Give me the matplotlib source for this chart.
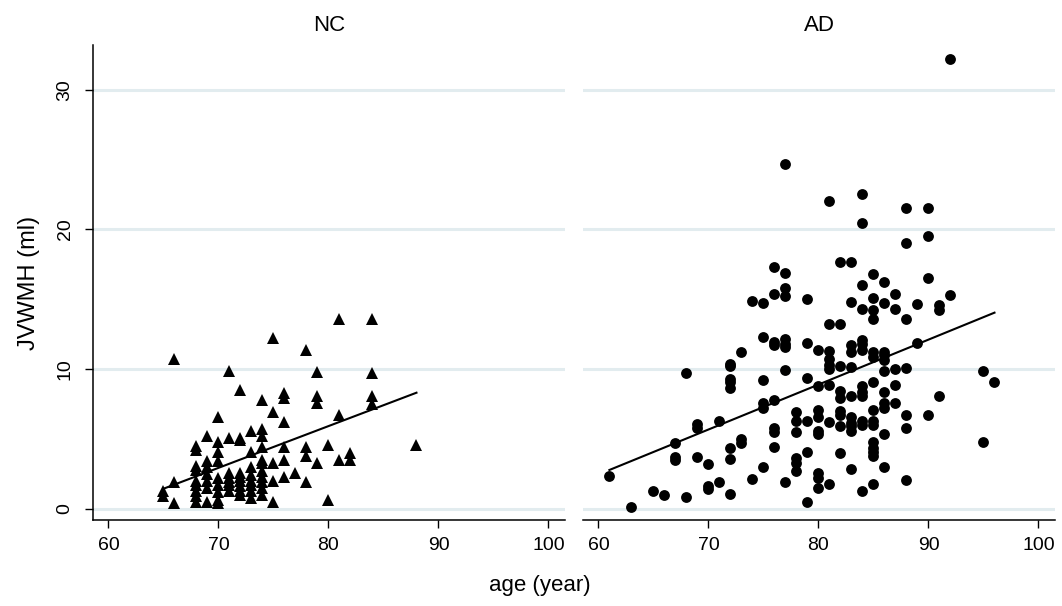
import numpy as np
import matplotlib
matplotlib.use("Agg")
import matplotlib.pyplot as plt

plt.rcParams['font.family'] = ['Liberation Sans', 'DejaVu Sans']

# ---------------- data ----------------
nc_age = [65, 65,
          66, 66, 66,
          68, 68, 68, 68, 68, 68, 68, 68, 68,
          69, 69, 69, 69, 69, 69, 69,
          70, 70, 70, 70, 70, 70, 70, 70, 70,
          71, 71, 71, 71, 71, 71, 71,
          72, 72, 72, 72, 72, 72, 72, 72, 72,
          73, 73, 73, 73, 73, 73, 73, 73,
          74, 74, 74, 74, 74, 74, 74, 74, 74, 74, 74,
          75, 75, 75, 75, 75,
          76, 76, 76, 76, 76, 76,
          77,
          78, 78, 78, 78,
          79, 79, 79, 79,
          80, 80,
          81, 81, 81,
          82, 82,
          84, 84, 84, 84,
          88]
nc_vol = [1.3, 0.9,
          1.9, 0.4, 10.7,
          4.5, 4.2, 3.1, 2.8, 2.0, 1.7, 1.3, 0.9, 0.5,
          5.2, 3.4, 3.0, 2.5, 2.0, 1.5, 0.5,
          6.6, 4.8, 4.1, 3.4, 2.2, 1.7, 1.2, 0.6, 0.4,
          9.9, 5.1, 2.6, 2.2, 1.9, 1.7, 1.3,
          8.5, 5.1, 4.9, 2.6, 2.3, 2.0, 1.6, 1.3, 1.0,
          5.6, 4.1, 3.0, 2.4, 2.0, 1.7, 1.3, 0.8,
          7.8, 5.7, 5.2, 4.4, 3.5, 3.3, 2.7, 2.3, 1.9, 1.5, 1.0,
          12.2, 6.9, 3.3, 2.0, 0.5,
          8.3, 7.9, 6.2, 4.4, 3.5, 2.3,
          2.6,
          11.4, 4.4, 3.8, 1.9,
          9.8, 8.1, 7.6, 3.3,
          4.6, 0.6,
          13.6, 6.7, 3.5,
          4.0, 3.5,
          13.6, 9.7, 8.1, 7.5,
          4.6]

ad_age = [61, 63, 65, 66,
          67, 67, 67,
          68, 68,
          69, 69, 69,
          70, 70, 70,
          71, 71,
          72, 72, 72, 72, 72, 72, 72, 72,
          73, 73, 73,
          74, 74,
          75, 75, 75, 75, 75, 75,
          76, 76, 76, 76, 76, 76, 76, 76,
          77, 77, 77, 77, 77, 77, 77, 77, 77,
          78, 78, 78, 78, 78, 78,
          79, 79, 79, 79, 79, 79,
          80, 80, 80, 80, 80, 80, 80, 80, 80,
          81, 81, 81, 81, 81, 81, 81, 81, 81,
          82, 82, 82, 82, 82, 82, 82, 82, 82,
          83, 83, 83, 83, 83, 83, 83, 83, 83, 83, 83,
          84, 84, 84, 84, 84, 84, 84, 84, 84, 84, 84, 84, 84,
          85, 85, 85, 85, 85, 85, 85, 85, 85, 85, 85, 85, 85, 85, 85,
          86, 86, 86, 86, 86, 86, 86, 86, 86, 86, 86,
          87, 87, 87, 87, 87,
          88, 88, 88, 88, 88, 88, 88,
          89, 89,
          90, 90, 90, 90,
          91, 91, 91,
          92, 92,
          95, 95,
          96]
ad_vol = [2.35, 0.1, 1.3, 1.0,
          4.7, 3.7, 3.5,
          9.75, 0.85,
          6.1, 5.75, 3.7,
          3.2, 1.65, 1.4,
          6.3, 1.9,
          10.4, 10.2, 9.3, 9.05, 8.65, 4.35, 3.55, 1.05,
          11.2, 5.0, 4.7,
          14.85, 2.15,
          14.7, 12.3, 9.2, 7.6, 7.25, 3.0,
          17.3, 15.4, 11.95, 11.7, 7.8, 5.75, 5.5, 4.4,
          24.7, 16.85, 15.8, 15.2, 12.15, 11.8, 11.55, 9.95, 1.95,
          6.9, 6.3, 5.5, 3.65, 3.25, 2.7,
          15.0, 11.9, 9.35, 6.3, 4.1, 0.5,
          11.4, 8.8, 7.1, 6.6, 5.6, 5.35, 2.55, 2.2, 1.5,
          22.0, 13.25, 11.3, 10.7, 10.3, 10.0, 8.85, 6.25, 1.75,
          17.7, 13.25, 10.2, 8.45, 7.95, 7.0, 6.7, 5.9, 4.0,
          17.7, 14.8, 11.7, 11.2, 10.15, 8.1, 6.6, 6.15, 5.9, 5.6, 2.85,
          22.5, 20.45, 16.0, 14.3, 12.1, 11.8, 11.4, 8.8, 8.35, 8.1, 6.3, 6.0, 1.25,
          16.8, 15.1, 14.2, 13.6, 11.25, 10.85, 9.05, 7.1, 6.3, 6.0, 4.8, 4.35, 4.1, 3.8, 1.75,
          16.25, 14.75, 11.25, 11.0, 10.65, 9.9, 8.35, 7.55, 7.25, 5.35, 3.0,
          15.4, 14.3, 10.0, 8.85, 7.6,
          21.5, 19.0, 13.6, 10.05, 6.7, 5.8, 2.05,
          14.65, 11.9,
          21.5, 19.5, 16.5, 6.7,
          14.6, 14.2, 8.05,
          32.2, 15.3,
          9.85, 4.8,
          9.05]

panel_titles = ["NC", "AD"]
x_ticks = [60, 70, 80, 90, 100]
y_ticks = [0, 10, 20, 30]

# ---------------- figure ----------------
W, H = 1062, 606
fig = plt.figure(figsize=(W / 100, H / 100), dpi=100)

def frac(x0, x1, y0, y1):
    return [x0 / W, 1 - y1 / H, (x1 - x0) / W, (y1 - y0) / H]

ax1 = fig.add_axes(frac(93, 565, 45, 520))
ax2 = fig.add_axes(frac(583, 1055, 45, 520))

grid_col = '#e2ecef'
panels = [(ax1, nc_age, nc_vol, '^', 8.5), (ax2, ad_age, ad_vol, 'o', 7.8)]

for i, (ax, xa, ya, mk, ms) in enumerate(panels):
    xa = np.asarray(xa, float)
    ya = np.asarray(ya, float)
    ax.set_xlim(58.6, 101.5)
    ax.set_ylim(-0.8, 33.2)
    for yt in y_ticks:
        ax.axhline(yt, color=grid_col, lw=2.2, zorder=0)
    ax.plot(xa, ya, linestyle='none', marker=mk, markersize=ms,
            color='black', markeredgewidth=0, zorder=3)
    b, a = np.polyfit(xa, ya, 1)
    xs = np.array([xa.min(), xa.max()])
    ax.plot(xs, a + b * xs, color='black', lw=1.5, zorder=4)

    ax.set_xticks(x_ticks)
    ax.set_xticklabels([str(t) for t in x_ticks], fontsize=14)
    ax.tick_params(axis='x', direction='out', length=6, width=1, pad=6)
    for s in ['top', 'right']:
        ax.spines[s].set_visible(False)
    ax.spines['bottom'].set_linewidth(1.1)
    ax.set_title(panel_titles[i], fontsize=16, pad=10)

    if i == 0:
        ax.set_yticks(y_ticks)
        ax.set_yticklabels([str(t) for t in y_ticks], fontsize=14,
                           rotation=90, va='center')
        ax.tick_params(axis='y', direction='out', length=6, width=1, pad=8)
        ax.spines['left'].set_linewidth(1.1)
        ax.set_ylabel("JVWMH (ml)", fontsize=17, labelpad=12)
    else:
        ax.spines['left'].set_visible(False)
        ax.set_yticks([])

fig.text(540 / W, 1 - 586 / H, "age (year)", ha='center', va='center', fontsize=16)

fig.savefig("out.png", dpi=100)
